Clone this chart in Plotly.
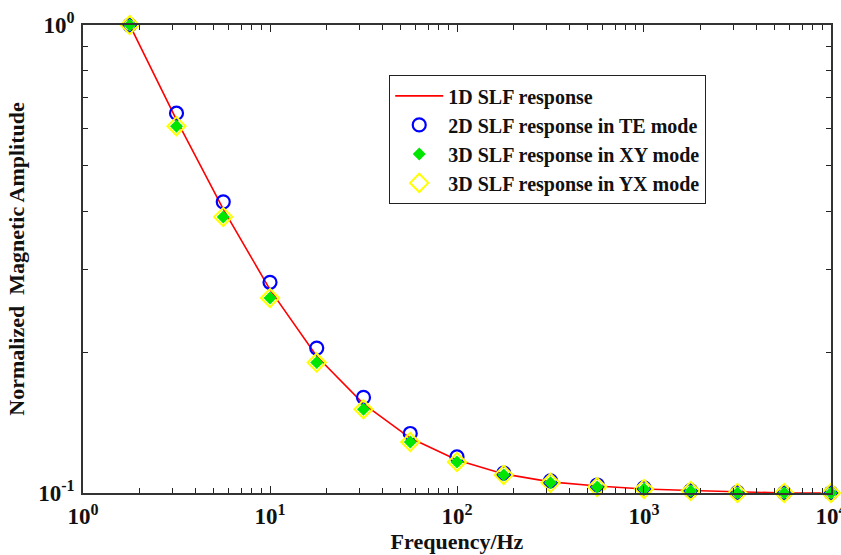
import plotly.graph_objects as go

# Frequencies (Hz) at which the responses are sampled
freq = [1.778, 3.162, 5.623, 10.0, 17.78, 31.62, 56.23, 100.0,
        177.8, 316.2, 562.3, 1000.0, 1778.0, 3162.0, 5623.0, 10000.0]

# Normalized magnetic amplitude for each model
resp_1d = [1.0, 0.627, 0.404, 0.272, 0.196, 0.155, 0.131, 0.1176,
           0.1098, 0.1056, 0.1035, 0.1020, 0.1012, 0.1005, 0.1000, 0.1000]
resp_2d_te = [1.0, 0.648, 0.419, 0.282, 0.204, 0.160, 0.134, 0.1194,
              0.1103, 0.1061, 0.1040, 0.1025, 0.1012, 0.1003, 0.1000, 0.1000]
resp_3d_xy = [1.0, 0.608, 0.389, 0.261, 0.190, 0.151, 0.1285, 0.1165,
              0.1093, 0.1051, 0.1030, 0.1020, 0.1010, 0.1000, 0.1000, 0.1000]
resp_3d_yx = [1.0, 0.608, 0.389, 0.261, 0.190, 0.151, 0.1285, 0.1165,
              0.1093, 0.1051, 0.1030, 0.1020, 0.1010, 0.1000, 0.1000, 0.1000]

x_tickvals = [1, 10, 100, 1000, 10000]
x_ticktext = ["10<sup>0</sup>", "10<sup>1</sup>", "10<sup>2</sup>",
              "10<sup>3</sup>", "10<sup>4</sup>"]
y_tickvals = [0.1, 1.0]
y_ticktext = ["10<sup>-1</sup>", "10<sup>0</sup>"]

x_minor = [m * 10 ** d for d in range(4) for m in range(2, 10)]
y_minor = [m / 10 for m in range(2, 10)]

FONT = "Liberation Serif"

fig = go.Figure()
fig.add_trace(go.Scatter(
    x=freq, y=resp_1d, mode="lines", name="1D SLF response",
    line=dict(color="#ff0000", width=1.6), cliponaxis=False))
fig.add_trace(go.Scatter(
    x=freq, y=resp_2d_te, mode="markers", name="2D SLF response in TE mode",
    marker=dict(symbol="circle-open", size=13, color="#0000ff",
                line=dict(width=2.2)), cliponaxis=False))
fig.add_trace(go.Scatter(
    x=freq, y=resp_3d_xy, mode="markers", name="3D SLF response in XY mode",
    marker=dict(symbol="diamond", size=10, color="#00e600",
                line=dict(width=0)), cliponaxis=False))
fig.add_trace(go.Scatter(
    x=freq, y=resp_3d_yx, mode="markers", name="3D SLF response in YX mode",
    marker=dict(symbol="diamond-open", size=14, color="#ffff00",
                line=dict(width=2)), cliponaxis=False))

axis_common = dict(
    showgrid=False, zeroline=False, showline=True, linecolor="#333333",
    linewidth=1.5, mirror="ticks", ticks="inside", ticklen=7,
    tickwidth=1.3, tickcolor="#222222",
    tickfont=dict(family=FONT, size=23, color="#111111", weight="bold"),
    ticklabeloverflow="allow",
)

fig.update_xaxes(
    type="log", range=[-0.0001, 4.0001], tickvals=x_tickvals,
    ticktext=x_ticktext,
    minor=dict(tickvals=x_minor, ticks="inside", ticklen=5, tickwidth=1.2,
               tickcolor="#222222"),
    ticklabelstandoff=2,
    title=dict(text="Frequency/Hz", standoff=2,
               font=dict(family=FONT, size=22, color="#111111", weight="bold")),
    **axis_common)
fig.update_yaxes(
    type="log", range=[-1.0001, 0.0001], tickvals=y_tickvals,
    ticktext=y_ticktext,
    minor=dict(tickvals=y_minor, ticks="inside", ticklen=5, tickwidth=1.2,
               tickcolor="#222222"),
    ticklabelstandoff=2,
    title=dict(text="Normalized\u00a0 Magnetic Amplitude", standoff=8,
               font=dict(family=FONT, size=22, color="#111111", weight="bold")),
    **axis_common)

fig.update_layout(
    width=841, height=555,
    margin=dict(l=83, r=10, t=25, b=62, autoexpand=False),
    paper_bgcolor="white", plot_bgcolor="white",
    showlegend=True,
    legend=dict(
        x=0.409, y=0.893, xanchor="left", yanchor="top",
        bgcolor="white", bordercolor="#222222", borderwidth=1.3,
        font=dict(family=FONT, size=20, color="#111111", weight="bold"),
        itemwidth=48, tracegroupgap=0,
    ),
)

fig.write_html("out.html")
